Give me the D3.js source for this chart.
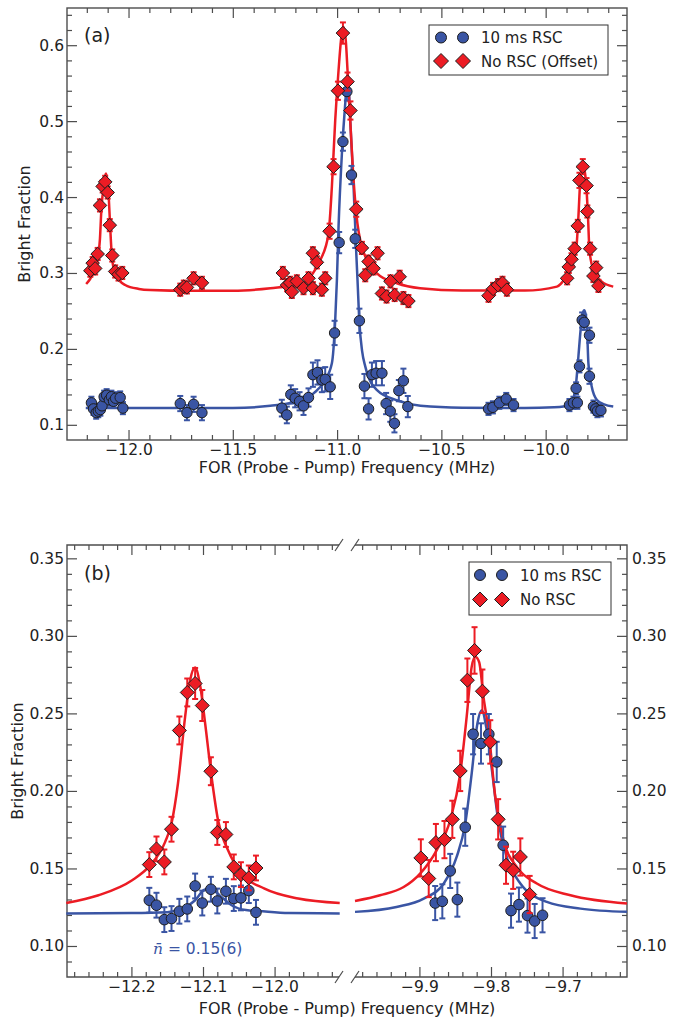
<!DOCTYPE html>
<html>
<head>
<meta charset="utf-8">
<script src="https://cdn.jsdelivr.net/npm/d3@7"></script>
<style>
  body { margin: 0; background: #fff; }
  svg { display: block; }
  text { font-family: "DejaVu Sans", sans-serif; }
</style>
</head>
<body>
<svg id="chart" width="685" height="1020"></svg>
<script>
// ---------- Panel (a): full FOR scan, [frequency MHz, bright fraction, error] ----------
const rscA = [
  [-12.178,0.129,0.008],[-12.168,0.121,0.008],[-12.155,0.116,0.008],[-12.145,0.118,0.008],
  [-12.135,0.120,0.008],[-12.127,0.125,0.008],[-12.117,0.137,0.008],[-12.105,0.139,0.008],
  [-12.092,0.133,0.008],[-12.082,0.137,0.008],[-12.072,0.131,0.008],[-12.062,0.135,0.008],
  [-12.040,0.136,0.008],[-12.027,0.122,0.008],
  [-11.752,0.128,0.010],[-11.720,0.116,0.010],[-11.688,0.127,0.010],[-11.648,0.116,0.010],
  [-11.265,0.122,0.011],[-11.241,0.113,0.011],[-11.222,0.140,0.012],[-11.201,0.135,0.012],
  [-11.180,0.131,0.012],[-11.161,0.125,0.012],[-11.137,0.136,0.012],[-11.116,0.166,0.016],
  [-11.094,0.169,0.016],[-11.073,0.159,0.016],[-11.057,0.160,0.016],[-11.033,0.150,0.016],
  [-11.012,0.221,0.016],[-10.990,0.340,0.014],[-10.972,0.473,0.012],[-10.953,0.539,0.012],
  [-10.931,0.429,0.012],[-10.913,0.345,0.012],[-10.893,0.237,0.016],[-10.869,0.151,0.016],
  [-10.849,0.121,0.014],[-10.833,0.166,0.016],[-10.813,0.168,0.016],[-10.785,0.168,0.016],
  [-10.765,0.128,0.014],[-10.745,0.118,0.014],[-10.725,0.102,0.012],[-10.704,0.145,0.014],
  [-10.682,0.158,0.016],[-10.661,0.124,0.014],
  [-10.274,0.121,0.008],[-10.253,0.123,0.008],[-10.222,0.129,0.008],[-10.189,0.134,0.008],
  [-10.154,0.126,0.008],
  [-9.886,0.126,0.008],[-9.867,0.129,0.008],[-9.854,0.148,0.008],[-9.848,0.129,0.008],
  [-9.838,0.177,0.008],[-9.825,0.238,0.010],[-9.815,0.235,0.010],[-9.790,0.218,0.010],
  [-9.790,0.164,0.010],[-9.771,0.124,0.008],[-9.760,0.121,0.008],[-9.752,0.118,0.008],
  [-9.735,0.119,0.008]
];

const noRscA = [
  [-12.183,0.303,0.008],[-12.172,0.313,0.008],[-12.160,0.306,0.008],[-12.148,0.325,0.008],
  [-12.137,0.389,0.008],[-12.124,0.414,0.008],[-12.112,0.420,0.008],[-12.100,0.406,0.008],
  [-12.090,0.363,0.008],[-12.078,0.323,0.008],[-12.064,0.302,0.008],[-12.048,0.298,0.008],
  [-12.030,0.300,0.008],
  [-11.752,0.278,0.008],[-11.735,0.282,0.008],[-11.720,0.281,0.008],[-11.688,0.293,0.008],
  [-11.648,0.287,0.008],
  [-11.260,0.300,0.008],[-11.240,0.284,0.008],[-11.225,0.287,0.008],[-11.217,0.275,0.008],
  [-11.193,0.289,0.008],[-11.161,0.280,0.008],[-11.137,0.293,0.008],[-11.116,0.280,0.008],
  [-11.116,0.326,0.008],[-11.097,0.314,0.008],[-11.073,0.278,0.008],[-11.057,0.293,0.008],
  [-11.036,0.355,0.010],[-11.017,0.440,0.010],[-10.996,0.540,0.012],[-10.972,0.616,0.014],
  [-10.950,0.552,0.012],[-10.936,0.514,0.012],[-10.908,0.384,0.010],[-10.881,0.333,0.008],
  [-10.865,0.297,0.008],[-10.849,0.315,0.008],[-10.825,0.306,0.008],[-10.806,0.326,0.008],
  [-10.785,0.273,0.008],[-10.763,0.269,0.008],[-10.744,0.289,0.008],[-10.724,0.271,0.008],
  [-10.700,0.295,0.008],[-10.682,0.267,0.008],[-10.658,0.263,0.008],
  [-10.274,0.270,0.008],[-10.252,0.279,0.008],[-10.229,0.284,0.008],[-10.207,0.287,0.008],
  [-10.186,0.278,0.008],
  [-9.897,0.293,0.008],[-9.889,0.308,0.008],[-9.876,0.318,0.008],[-9.861,0.332,0.008],
  [-9.846,0.362,0.008],[-9.838,0.422,0.010],[-9.822,0.440,0.010],[-9.804,0.415,0.010],
  [-9.800,0.381,0.008],[-9.787,0.332,0.008],[-9.771,0.296,0.008],[-9.758,0.307,0.008],
  [-9.747,0.283,0.008]
];

// fitted line shapes, [frequency MHz, bright fraction]
const rscFitA = [
  [-12.205,0.122],[-11.80,0.122],[-11.50,0.1222],[-11.32,0.125],[-11.19,0.131],[-11.11,0.142],
  [-11.06,0.158],[-11.025,0.181],[-11.009,0.238],[-11.001,0.29],[-10.993,0.361],[-10.977,0.457],
  [-10.961,0.523],[-10.950,0.557],[-10.944,0.545],[-10.937,0.501],[-10.921,0.414],[-10.908,0.326],
  [-10.902,0.29],[-10.893,0.235],[-10.880,0.197],[-10.865,0.177],[-10.81,0.146],[-10.71,0.132],
  [-10.60,0.125],[-10.40,0.1225],[-10.10,0.1222],[-9.96,0.123],[-9.915,0.124],[-9.874,0.131],
  [-9.854,0.155],[-9.843,0.19],[-9.831,0.229],[-9.822,0.247],[-9.815,0.251],[-9.808,0.245],
  [-9.802,0.229],[-9.795,0.181],[-9.779,0.150],[-9.755,0.133],[-9.72,0.127],[-9.676,0.124]
];

const noRscFitA = [
  [-12.203,0.2855],[-12.184,0.292],[-12.168,0.300],[-12.155,0.31],[-12.144,0.326],[-12.137,0.345],
  [-12.131,0.379],[-12.120,0.414],[-12.112,0.428],[-12.108,0.431],[-12.102,0.422],[-12.096,0.405],
  [-12.088,0.361],[-12.080,0.322],[-12.072,0.307],[-12.064,0.2996],[-12.040,0.289],[-12.016,0.2842],
  [-11.95,0.279],[-11.896,0.2776],[-11.70,0.2765],[-11.50,0.2765],[-11.32,0.2798],[-11.16,0.2864],
  [-11.12,0.298],[-11.08,0.317],[-11.041,0.352],[-11.025,0.4136],[-11.009,0.501],[-10.993,0.567],
  [-10.980,0.61],[-10.969,0.624],[-10.958,0.605],[-10.950,0.567],[-10.937,0.501],[-10.924,0.4355],
  [-10.908,0.3786],[-10.881,0.3346],[-10.809,0.2996],[-10.713,0.2864],[-10.602,0.2798],[-10.40,0.2768],
  [-10.10,0.2768],[-9.946,0.282],[-9.907,0.293],[-9.874,0.3105],[-9.854,0.330],[-9.843,0.374],
  [-9.835,0.418],[-9.828,0.438],[-9.822,0.4443],[-9.815,0.438],[-9.806,0.418],[-9.797,0.374],
  [-9.790,0.330],[-9.771,0.304],[-9.731,0.2886],[-9.676,0.282]
];

// ---------- Panel (b): sideband close-ups ----------
const rscB = [
  [-12.175,0.1295,0.008],[-12.165,0.1263,0.008],[-12.154,0.1170,0.008],[-12.144,0.1177,0.008],
  [-12.133,0.1224,0.008],[-12.122,0.1239,0.008],[-12.111,0.1387,0.008],[-12.101,0.1277,0.008],
  [-12.089,0.1366,0.008],[-12.080,0.1290,0.008],[-12.068,0.1353,0.008],[-12.057,0.1306,0.008],
  [-12.047,0.1310,0.008],[-12.036,0.1357,0.008],[-12.026,0.1217,0.008],
  [-9.878,0.1277,0.011],[-9.868,0.1288,0.011],[-9.857,0.1484,0.011],[-9.847,0.1299,0.011],
  [-9.836,0.1766,0.012],[-9.825,0.2366,0.013],[-9.814,0.2306,0.013],[-9.803,0.2366,0.013],
  [-9.792,0.2187,0.013],[-9.783,0.1650,0.012],[-9.772,0.1228,0.011],[-9.761,0.1267,0.011],
  [-9.749,0.1196,0.011],[-9.739,0.1161,0.011],[-9.728,0.1198,0.011]
];

const noRscB = [
  [-12.175,0.1525,0.008],[-12.165,0.1626,0.008],[-12.154,0.1542,0.008],[-12.144,0.1753,0.008],
  [-12.133,0.2390,0.009],[-12.122,0.2635,0.009],[-12.111,0.2693,0.010],[-12.101,0.2551,0.010],
  [-12.089,0.2127,0.009],[-12.080,0.1732,0.008],[-12.068,0.1719,0.008],[-12.057,0.1510,0.008],
  [-12.047,0.1460,0.008],[-12.036,0.1439,0.008],[-12.026,0.1503,0.008],
  [-9.898,0.1568,0.012],[-9.887,0.1435,0.012],[-9.877,0.1667,0.012],[-9.865,0.1686,0.012],
  [-9.854,0.1817,0.012],[-9.843,0.2129,0.013],[-9.833,0.2714,0.014],[-9.823,0.2906,0.015],
  [-9.812,0.2643,0.014],[-9.801,0.2316,0.014],[-9.790,0.1817,0.013],[-9.779,0.1521,0.012],
  [-9.769,0.1488,0.012],[-9.759,0.1574,0.012],[-9.746,0.1332,0.012]
];

const rscFitB = [
  [-12.291,0.121],[-12.20,0.1212],[-12.15,0.1218],[-12.135,0.1232],[-12.125,0.125],[-12.111,0.1295],
  [-12.099,0.136],[-12.092,0.137],[-12.084,0.1355],[-12.075,0.132],[-12.060,0.1263],[-12.040,0.1232],
  [-12.022,0.1226],[-11.98,0.1213],[-11.909,0.121],
  [-9.99,0.122],[-9.932,0.1252],[-9.894,0.1306],[-9.866,0.1403],[-9.848,0.1574],[-9.836,0.1789],
  [-9.827,0.2112],[-9.819,0.2435],[-9.813,0.2521],[-9.806,0.2392],[-9.7987,0.2134],[-9.790,0.1811],
  [-9.778,0.1574],[-9.759,0.1403],[-9.722,0.1284],[-9.675,0.1241],[-9.61,0.122]
];

const noRscFitB = [
  [-12.291,0.1277],[-12.246,0.1327],[-12.199,0.1424],[-12.176,0.151],[-12.153,0.167],[-12.144,0.179],
  [-12.135,0.2048],[-12.125,0.2477],[-12.118,0.2714],[-12.111,0.2796],[-12.104,0.268],[-12.097,0.2435],
  [-12.088,0.209],[-12.079,0.1811],[-12.065,0.1617],[-12.046,0.1467],[-12.014,0.137],[-11.967,0.1306],
  [-11.909,0.1277],
  [-9.99,0.129],[-9.955,0.1327],[-9.922,0.138],[-9.899,0.1467],[-9.876,0.1617],[-9.857,0.1811],
  [-9.843,0.2112],[-9.834,0.2477],[-9.827,0.28],[-9.822,0.2865],[-9.8165,0.283],[-9.8105,0.2606],
  [-9.8035,0.2392],[-9.794,0.1961],[-9.7825,0.1682],[-9.764,0.151],[-9.736,0.1403],[-9.689,0.1327],
  [-9.61,0.1274]
];

// tick labels
const xTicksA = [-12.0, -11.5, -11.0, -10.5, -10.0];
const yTicksA = [0.1, 0.2, 0.3, 0.4, 0.5, 0.6];
const xTicksBLeft = [-12.2, -12.1, -12.0];
const xTicksBRight = [-9.9, -9.8, -9.7];
const yTicksB = [0.10, 0.15, 0.20, 0.25, 0.30, 0.35];

const seriesNames = ["10 ms RSC", "No RSC (Offset)", "No RSC"];

// ---------- drawing ----------
const svg = d3.select("#chart");
const SPINE = "#4d4d4d";
const RED = "#ec1c24", BLUE = "#3a55a4", EDGE = "#1e1e1e";
const FONT = "DejaVu Sans";

function styleAxis(sel) {
  sel.attr("font-family", null).attr("font-size", null);
  sel.select(".domain").remove();
  sel.selectAll(".tick line").attr("stroke", SPINE).attr("stroke-width", 1.2);
  sel.selectAll(".tick text").attr("fill", "#222")
    .style("font-family", FONT).style("font-size", "15.5px");
}

function tickSet(g, axisFn, scale, tx, ty, values, size, fmt, pad) {
  const a = axisFn(scale).tickValues(values).tickSizeInner(-size).tickSizeOuter(0)
    .tickPadding(pad || 4).tickFormat(fmt || (() => ""));
  g.append("g").attr("transform", `translate(${tx},${ty})`).call(a).call(styleAxis);
}

function drawFit(g, pts, x, y, color) {
  g.append("path").datum(pts)
    .attr("fill", "none").attr("stroke", color).attr("stroke-width", 2.5)
    .attr("stroke-linejoin", "round")
    .attr("d", d3.line().x(d => x(d[0])).y(d => y(d[1])).curve(d3.curveMonotoneX));
}

function drawErrors(g, data, x, y, color) {
  const e = g.append("g").attr("stroke", color).attr("stroke-width", 2);
  e.selectAll("line.bar").data(data).join("line").attr("class", "bar")
    .attr("x1", d => x(d[0])).attr("x2", d => x(d[0]))
    .attr("y1", d => y(d[1] - d[2])).attr("y2", d => y(d[1] + d[2]));
  e.selectAll("line.capHi").data(data).join("line").attr("class", "capHi")
    .attr("x1", d => x(d[0]) - 3).attr("x2", d => x(d[0]) + 3)
    .attr("y1", d => y(d[1] + d[2])).attr("y2", d => y(d[1] + d[2]));
  e.selectAll("line.capLo").data(data).join("line").attr("class", "capLo")
    .attr("x1", d => x(d[0]) - 3).attr("x2", d => x(d[0]) + 3)
    .attr("y1", d => y(d[1] - d[2])).attr("y2", d => y(d[1] - d[2]));
}

function circleMarks(g, data, x, y, r) {
  g.append("g").selectAll("circle").data(data).join("circle")
    .attr("cx", d => x(d[0])).attr("cy", d => y(d[1])).attr("r", r)
    .attr("fill", BLUE).attr("stroke", EDGE).attr("stroke-width", 1);
}

function diamondPath(cx, cy, s) {
  return `M${cx},${cy - s}L${cx + s},${cy}L${cx},${cy + s}L${cx - s},${cy}Z`;
}

function diamondMarks(g, data, x, y, s) {
  g.append("g").selectAll("path").data(data).join("path")
    .attr("d", d => diamondPath(x(d[0]), y(d[1]), s))
    .attr("fill", RED).attr("stroke", EDGE).attr("stroke-width", 1);
}

function legend(g, x0, y0, w, h, rows, rowY, mx, tx) {
  g.append("rect").attr("x", x0).attr("y", y0).attr("width", w).attr("height", h)
    .attr("fill", "#fff").attr("stroke", "#333").attr("stroke-width", 1);
  rows.forEach((row, i) => {
    const cy = rowY[i];
    mx.forEach(cx => {
      if (row.kind === "circle") {
        g.append("circle").attr("cx", cx).attr("cy", cy).attr("r", 5.5)
          .attr("fill", BLUE).attr("stroke", EDGE).attr("stroke-width", 1);
      } else {
        g.append("path").attr("d", diamondPath(cx, cy, 7.5))
          .attr("fill", RED).attr("stroke", EDGE).attr("stroke-width", 1);
      }
    });
    g.append("text").attr("x", tx).attr("y", cy + 5.5).attr("fill", "#222")
      .style("font-size", "15px").text(row.label);
  });
}

// ===== Panel (a) =====
const A = { l: 67, r: 627, t: 8, b: 440 };
const xA = d3.scaleLinear().domain([-12.295, -9.61]).range([A.l, A.r]);
const yA = d3.scaleLinear().domain([0.08, 0.649]).range([A.b, A.t]);
const gA = svg.append("g");

const xMinorA = d3.range(-122, -96).filter(d => d % 5 !== 0).map(d => d / 10);
const yMinorA = d3.range(5, 33).filter(d => d % 5 !== 0).map(d => d * 0.02);

tickSet(gA, d3.axisBottom, xA, 0, A.b, xMinorA, 5);
tickSet(gA, d3.axisTop, xA, 0, A.t, xMinorA, 5);
tickSet(gA, d3.axisLeft, yA, A.l, 0, yMinorA, 5);
tickSet(gA, d3.axisRight, yA, A.r, 0, yMinorA, 5);
tickSet(gA, d3.axisBottom, xA, 0, A.b, xTicksA, 10, d3.format(".1f"), 4);
tickSet(gA, d3.axisTop, xA, 0, A.t, xTicksA, 10);
tickSet(gA, d3.axisLeft, yA, A.l, 0, yTicksA, 10, d3.format(".1f"), 3);
tickSet(gA, d3.axisRight, yA, A.r, 0, yTicksA, 10);

gA.append("rect").attr("x", A.l).attr("y", A.t).attr("width", A.r - A.l).attr("height", A.b - A.t)
  .attr("fill", "none").attr("stroke", SPINE).attr("stroke-width", 1.4);

drawFit(gA, rscFitA, xA, yA, BLUE);
drawFit(gA, noRscFitA, xA, yA, RED);
drawErrors(gA, rscA, xA, yA, BLUE);
circleMarks(gA, rscA, xA, yA, 5.2);
drawErrors(gA, noRscA, xA, yA, RED);
diamondMarks(gA, noRscA, xA, yA, 6.8);

gA.append("text").attr("x", 84).attr("y", 42).attr("fill", "#222").style("font-size", "19px").text("(a)");
legend(gA, 429, 25, 179, 50,
  [{ kind: "circle", label: seriesNames[0] }, { kind: "diamond", label: seriesNames[1] }],
  [37.5, 61], [441, 463], 481);

gA.append("text").attr("transform", "translate(30,224) rotate(-90)").attr("text-anchor", "middle")
  .attr("fill", "#222").style("font-size", "16px").text("Bright Fraction");
gA.append("text").attr("x", 347).attr("y", 473).attr("text-anchor", "middle")
  .attr("fill", "#222").style("font-size", "16px").text("FOR (Probe - Pump) Frequency (MHz)");

// ===== Panel (b): broken frequency axis =====
const B = { l: 67, r: 627, t: 545, b: 977, midL: 339, midR: 355 };
const xBL = d3.scaleLinear().domain([-12.29, -11.91]).range([B.l, B.midL]);
const xBR = d3.scaleLinear().domain([-9.99, -9.61]).range([B.midR, B.r]);
const yB = d3.scaleLinear().domain([0.08, 0.3586]).range([B.b, B.t]);
const gB = svg.append("g");

const xMinorBL = d3.range(-614, -595).filter(d => d % 5 !== 0).map(d => d * 0.02);
const xMinorBR = d3.range(-499, -480).filter(d => d % 5 !== 0).map(d => d * 0.02);
const yMinorB = d3.range(9, 36).filter(d => d % 5 !== 0).map(d => d * 0.01);

[[xBL, xMinorBL, xTicksBLeft], [xBR, xMinorBR, xTicksBRight]].forEach(([xs, minor, major]) => {
  tickSet(gB, d3.axisBottom, xs, 0, B.b, minor, 5);
  tickSet(gB, d3.axisTop, xs, 0, B.t, minor, 5);
  tickSet(gB, d3.axisBottom, xs, 0, B.b, major, 10, d3.format(".1f"), 4);
  tickSet(gB, d3.axisTop, xs, 0, B.t, major, 10);
});
tickSet(gB, d3.axisLeft, yB, B.l, 0, yMinorB, 5);
tickSet(gB, d3.axisRight, yB, B.r, 0, yMinorB, 5);
tickSet(gB, d3.axisLeft, yB, B.l, 0, yTicksB, 10, d3.format(".2f"), 3);
tickSet(gB, d3.axisRight, yB, B.r, 0, yTicksB, 10, d3.format(".2f"), 5);

const spine = gB.append("g").attr("stroke", SPINE).attr("stroke-width", 1.4).attr("fill", "none");
spine.append("path").attr("d", `M${B.midL},${B.t}H${B.l}V${B.b}H${B.midL}`);
spine.append("path").attr("d", `M${B.midR},${B.t}H${B.r}V${B.b}H${B.midR}`);
// diagonal break marks
[B.midL, B.midR].forEach(cx => {
  [B.t, B.b].forEach(cy => {
    spine.append("line").attr("x1", cx - 4).attr("y1", cy + 6).attr("x2", cx + 4).attr("y2", cy - 6)
      .attr("stroke-width", 1.2);
  });
});

const isLeft = d => d[0] < -11;
const isRight = d => d[0] > -11;
drawFit(gB, rscFitB.filter(isLeft), xBL, yB, BLUE);
drawFit(gB, rscFitB.filter(isRight), xBR, yB, BLUE);
drawFit(gB, noRscFitB.filter(isLeft), xBL, yB, RED);
drawFit(gB, noRscFitB.filter(isRight), xBR, yB, RED);
drawErrors(gB, rscB.filter(isLeft), xBL, yB, BLUE);
drawErrors(gB, rscB.filter(isRight), xBR, yB, BLUE);
circleMarks(gB, rscB.filter(isLeft), xBL, yB, 5.3);
circleMarks(gB, rscB.filter(isRight), xBR, yB, 5.3);
drawErrors(gB, noRscB.filter(isLeft), xBL, yB, RED);
drawErrors(gB, noRscB.filter(isRight), xBR, yB, RED);
diamondMarks(gB, noRscB.filter(isLeft), xBL, yB, 7);
diamondMarks(gB, noRscB.filter(isRight), xBR, yB, 7);

gB.append("text").attr("x", 84).attr("y", 580).attr("fill", "#222").style("font-size", "19px").text("(b)");
legend(gB, 469, 562, 142, 53,
  [{ kind: "circle", label: seriesNames[0] }, { kind: "diamond", label: seriesNames[2] }],
  [575, 599.5], [480, 502], 520);

const ann = gB.append("text").attr("x", 153).attr("y", 954).attr("fill", BLUE).style("font-size", "15.5px");
ann.append("tspan").style("font-family", "DejaVu Serif").style("font-style", "italic").text("n\u0304");
ann.append("tspan").text(" = 0.15(6)");

gB.append("text").attr("transform", "translate(23,761) rotate(-90)").attr("text-anchor", "middle")
  .attr("fill", "#222").style("font-size", "16px").text("Bright Fraction");
gB.append("text").attr("x", 347).attr("y", 1014).attr("text-anchor", "middle")
  .attr("fill", "#222").style("font-size", "16px").text("FOR (Probe - Pump) Frequency (MHz)");
</script>
</body>
</html>
